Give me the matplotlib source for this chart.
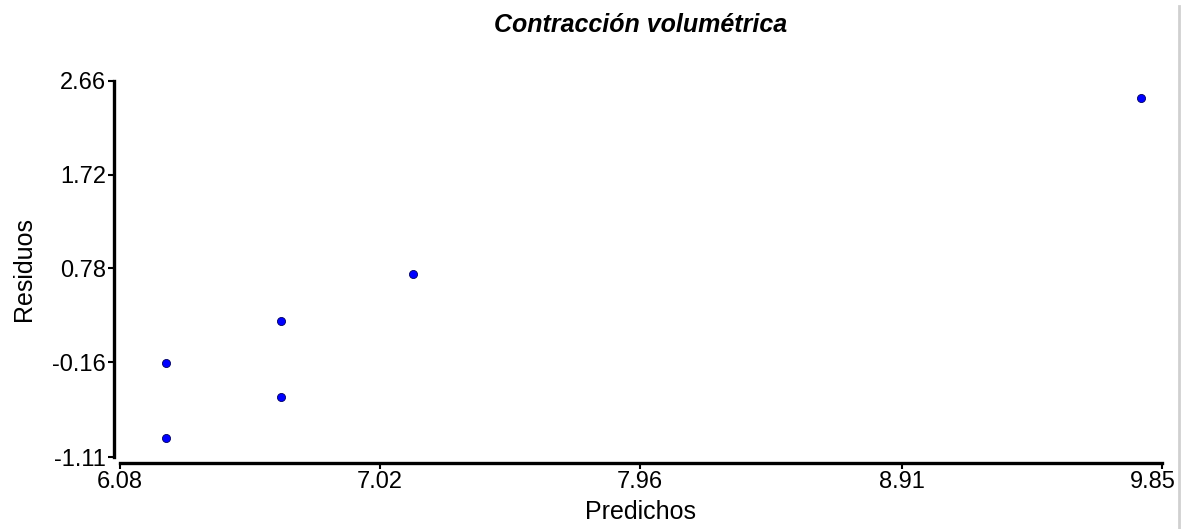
import matplotlib.pyplot as plt
from matplotlib.lines import Line2D
from matplotlib.transforms import ScaledTranslation

plt.rcParams['font.family'] = ['Liberation Sans', 'DejaVu Sans']

# datos
predichos = [6.246, 6.246, 6.663, 6.663, 7.140, 9.774]
residuos = [-0.164, -0.918, 0.258, -0.506, 0.720, 2.489]

xticks = [6.08, 7.02, 7.96, 8.91, 9.85]
yticks = [-1.11, -0.16, 0.78, 1.72, 2.66]
xlabels = ['6.08', '7.02', '7.96', '8.91', '9.85']
ylabels = ['-1.11', '-0.16', '0.78', '1.72', '2.66']

fig = plt.figure(figsize=(11.89, 5.29), dpi=100)
ax = fig.add_axes([0.1009, 0.1361, 0.8764, 0.7108])

ax.scatter(predichos, residuos, s=34, color='#0000ff', edgecolors='#000060',
           linewidths=0.6, zorder=3)

ax.set_xlim(6.08, 9.85)
ax.set_ylim(-1.11, 2.66)
ax.set_xticks(xticks)
ax.set_xticklabels(xlabels)
ax.set_yticks(yticks)
ax.set_yticklabels(ylabels)

for s in ['top', 'right']:
    ax.spines[s].set_visible(False)
for s in ['left', 'bottom']:
    ax.spines[s].set_linewidth(2.4)
    ax.spines[s].set_position(('outward', 4))
ax.tick_params(axis='both', length=4, width=1.5, labelsize=17, pad=2)

# la ultima etiqueta queda corrida a la izquierda
last = ax.get_xticklabels()[-1]
last.set_transform(last.get_transform() + ScaledTranslation(-9 / 100, 0, fig.dpi_scale_trans))

ax.set_title('Contracción volumétrica', fontsize=18, fontweight='bold',
             fontstyle='italic', pad=35)
ax.set_xlabel('Predichos', fontsize=18, labelpad=5)
ax.set_ylabel('Residuos', fontsize=18, labelpad=12)

# borde gris a la derecha
fig.add_artist(Line2D([0.9916, 0.9916], [0, 0.988], color='#d0d0d0', linewidth=2,
                      transform=fig.transFigure))

plt.savefig('out.png', dpi=100)
plt.close()
